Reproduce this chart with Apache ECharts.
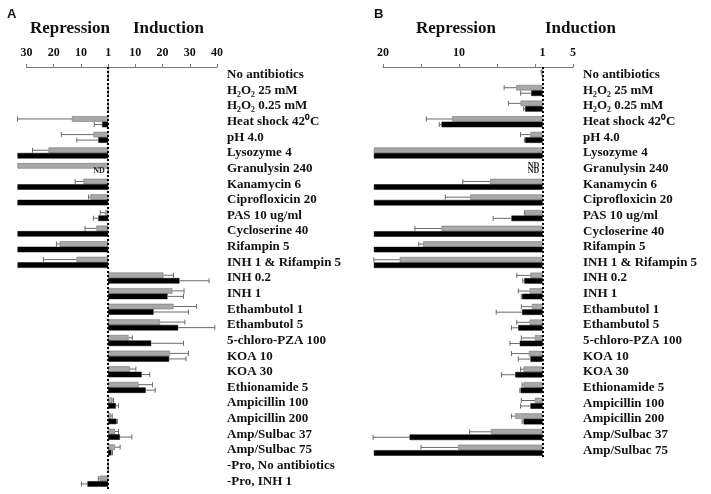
<!DOCTYPE html>
<html><head><meta charset="utf-8">
<script src="https://cdn.jsdelivr.net/npm/echarts@6/dist/echarts.min.js"></script>
<style>html,body{margin:0;padding:0;background:#fff}#c{width:711px;height:494px}</style>
</head><body><div id="c"></div>
<script>
// ---------- Panel A ----------
const catsA = ['No antibiotics','H₂O₂ 25 mM','H₂O₂ 0.25 mM','Heat shock 42⁰C','pH 4.0','Lysozyme 4','Granulysin 240','Kanamycin 6','Ciprofloxicin 20','PAS 10 ug/ml','Cycloserine 40','Rifampin 5','INH 1 & Rifampin 5','INH 0.2','INH 1','Ethambutol 1','Ethambutol 5','5-chloro-PZA 100','KOA 10','KOA 30','Ethionamide 5','Ampicillin 100','Ampicillin 200','Amp/Sulbac 37','Amp/Sulbac 75','-Pro, No antibiotics','-Pro, INH 1'];
// negative = repression, positive = induction (bars beyond the axis end are off-scale)
const grayA    = [0,0,0,-13.3,-5.4,-21.9,-33.3,-9.1,-6.5,-1.1,-4.3,-17.8,-11.6,20.3,23.6,24.0,19.0,7.5,22.7,8.0,11.2,1.6,1.0,2.5,2.5,0,-3.1];
const grayErrA = [0,0,0,20.0,11.8,5.9,0,3.0,0.7,1.8,4.2,1.2,12.2,3.7,4.3,8.5,9.2,1.4,6.8,2.2,5.1,0.4,0.5,1.3,1.9,0,0.5];
const blackA   = [0,0,0,-2.2,-3.6,-33.3,null,-33.3,-33.3,-3.6,-33.3,-33.3,-33.3,26.2,21.8,16.7,25.7,15.8,22.4,12.3,13.8,2.8,3.1,4.3,1.2,0,-7.6];
const blackErrA= [0,0,0,2.9,7.9,0,0,0,0,1.8,0,0,0,10.9,5.9,12.8,13.5,11.9,6.2,3.0,3.5,1.0,0.3,4.4,0.4,0,2.2];
const ticksA = [-30,-20,-10,0,10,20,30,40];
const tickLabelsA = ['30','20','10','1','10','20','30','40'];

// ---------- Panel B ----------
const catsB = catsA.slice(0,25);
const grayB    = [-0.25,-3.46,-2.9,-11.9,-1.6,-22.2,null,-6.9,-9.5,-2.3,-13.3,-15.7,-18.8,-1.6,-1.7,-1.4,-1.7,-1.0,-1.8,-2.5,-2.5,-1.0,-3.6,-6.8,-11.1];
const grayErrB = [0,1.6,1.6,3.4,1.3,0,0,3.6,3.3,0.1,3.5,0.6,3.4,1.8,1.5,1.4,1.7,1.8,2.3,0.4,0.2,1.8,0.5,2.8,4.9];
const blackB   = [0,-1.49,-2.3,-13.3,-2.3,-22.2,null,-22.2,-22.2,-4.1,-22.2,-22.2,-22.2,-2.4,-2.7,-2.7,-3.2,-3.0,-1.6,-3.6,-2.9,-1.6,-2.5,-17.5,-22.2];
const blackErrB= [0,1.4,0.2,0.3,0.1,0,0,0,0,2.4,0,0,0,0.2,0.1,3.4,0.9,1.3,1.6,1.8,0.1,1.3,0.2,4.8,0];
const tickPosB = [-21,-16,-11,-6,-1,4];
const ticksB = [-21,-11,0,4];
const tickLabelsB = ['20','10','1','5'];

const SERIF = "'Liberation Serif','Times New Roman',serif";
const BW = 5.5;
const chart = echarts.init(document.getElementById('c'));

function barData(vals){
  return vals.map(v => v === null
    ? {value: 0, label:{show:true, formatter:'ND', position:'left', distance:3, fontSize:8, fontWeight:'bold', fontFamily:SERIF, color:'#222'}}
    : v);
}
function errData(vals, errs){ return vals.map((v,i)=>[i, v===null?0:v, errs[i]]); }
function errSeries(gi, vals, errs, off){
  return {type:'custom', xAxisIndex:gi, yAxisIndex:gi, clip:false, z:5,
    encode:{x:1,y:0}, data: errData(vals, errs),
    renderItem:(params, api)=>{
      const cat=api.value(0), v=api.value(1), e=api.value(2);
      if(!e) return null;
      const end = v + (v<0?-1:1)*e;
      const p1 = api.coord([v,cat]), p2 = api.coord([end,cat]);
      const y = p1[1] + off;
      const st = {stroke:'#6a6a6a', lineWidth:1};
      return {type:'group', children:[
        {type:'line', shape:{x1:p1[0],y1:y,x2:p2[0],y2:y}, style:st},
        {type:'line', shape:{x1:p2[0],y1:y-2.5,x2:p2[0],y2:y+2.5}, style:st}
      ]};
    }};
}

const yAxisCfg = (gi, cats) => ({gridIndex:gi, type:'category', data:cats, inverse:true,
  position:'right', axisLine:{show:false}, axisTick:{show:false},
  axisLabel:{interval:0, margin:10, color:'#111', fontFamily:SERIF, fontWeight:'bold', fontSize:13, align:'left'}});

const xAxisCfg = (gi, min, max, tickPos, labPos, labs) => ({gridIndex:gi, type:'value', position:'top', min, max,
  splitLine:{show:false},
  axisLine:{show:true, onZero:false, lineStyle:{color:'#777', width:1}},
  axisTick:{show:true, customValues:tickPos, length:3, lineStyle:{color:'#777'}},
  axisLabel:{customValues:labPos, margin:8, color:'#111', fontFamily:SERIF, fontWeight:'bold', fontSize:12,
    formatter:(v)=>{const i=labPos.indexOf(v); return i>=0?labs[i]:'';}}});

const barSeries = (gi, vals, color, withLine) => {
  const s = {type:'bar', xAxisIndex:gi, yAxisIndex:gi, data:barData(vals), barWidth:BW, barGap:'0%', clip:false,
    itemStyle:{color:color, borderColor: color==='#000'?'#000':'#666', borderWidth:0.5}};
  if(withLine){
    s.markLine = {silent:true, symbol:'none', label:{show:false},
      lineStyle:{type:'dotted', color:'#000', width:2}, data:[{xAxis:0}]};
  }
  return s;
};

const titleStyle = {fontFamily:SERIF, fontWeight:'bold', fontSize:17, color:'#111'};
const letterStyle = {fontFamily:"'Liberation Sans',Arial,sans-serif", fontWeight:'bold', fontSize:13, color:'#111'};

chart.setOption({
  animation:false,
  title:[
    {text:'A', left:7, top:8, textStyle:letterStyle, padding:0},
    {text:'Repression', left:30, top:20, textStyle:titleStyle, padding:0},
    {text:'Induction', left:133, top:20, textStyle:titleStyle, padding:0},
    {text:'B', left:374, top:8, textStyle:letterStyle, padding:0},
    {text:'Repression', left:416, top:20, textStyle:titleStyle, padding:0},
    {text:'Induction', left:545, top:20, textStyle:titleStyle, padding:0}
  ],
  grid:[
    {left:26.5, top:67, width:190.5, height:422},
    {left:383, top:67, width:190, height:391}
  ],
  xAxis:[
    xAxisCfg(0, -30, 40, ticksA, ticksA, tickLabelsA),
    xAxisCfg(1, -21, 4, tickPosB, ticksB, tickLabelsB)
  ],
  yAxis:[yAxisCfg(0, catsA), yAxisCfg(1, catsB)],
  series:[
    barSeries(0, grayA, '#a8a8a8', true),
    barSeries(0, blackA, '#000', false),
    errSeries(0, grayA, grayErrA, -BW/2),
    errSeries(0, blackA, blackErrA, BW/2),
    barSeries(1, grayB, '#a8a8a8', true),
    barSeries(1, blackB, '#000', false),
    errSeries(1, grayB, grayErrB, -BW/2),
    errSeries(1, blackB, blackErrB, BW/2)
  ]
});
</script></body></html>
